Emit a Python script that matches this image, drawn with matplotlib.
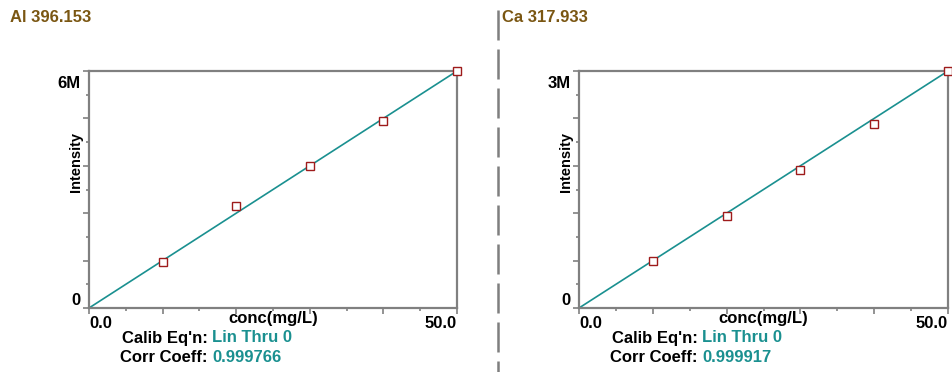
import numpy as np
import matplotlib.pyplot as plt
import matplotlib.transforms as mtransforms
from matplotlib.ticker import FixedLocator, NullFormatter

plt.rcParams['font.family'] = ['Liberation Sans', 'DejaVu Sans']
plt.rcParams['font.weight'] = 'bold'

# Calibration data (standards)
conc = [10.0, 20.0, 30.0, 40.0, 50.0]
al_intensity = [1.17e6, 2.58e6, 3.59e6, 4.73e6, 6.00e6]
ca_intensity = [0.60e6, 1.17e6, 1.75e6, 2.33e6, 3.00e6]

# Linear fit through zero (slope in counts per mg/L)
al_slope = 120000
ca_slope = 60000

titles = ['Al 396.153', 'Ca 317.933']
ymax = [6e6, 3e6]
ymax_labels = ['6M', '3M']
corr_coeff = ['0.999766', '0.999917']
calib_eqn = 'Lin Thru 0'

W, H = 952, 372
title_col = '#7a5612'
teal = '#1a9090'
red = '#9e1b1b'
spine_col = '#808080'

fig = plt.figure(figsize=(W / 100, H / 100), dpi=100)

def fx(px):
    return px / W

def fy(py):
    return 1 - py / H

panels = [
    dict(left=89, right=457, tx=10, y=al_intensity, slope=al_slope),
    dict(left=579, right=948, tx=502, y=ca_intensity, slope=ca_slope),
]
top, bottom = 71, 308

for i, p in enumerate(panels):
    ax = fig.add_axes([fx(p['left']), fy(bottom), fx(p['right'] - p['left']), (bottom - top) / H])
    ax.set_xlim(0, 50)
    ax.set_ylim(0, ymax[i])

    xline = np.array([0.0, 50.0])
    ax.plot(xline, p['slope'] * xline, color=teal, lw=1.2, clip_on=False, zorder=2)
    ax.plot(conc, p['y'], ls='none', marker='s', ms=5.5, mfc='white', mec=red, mew=1.0,
            clip_on=False, zorder=3)

    for s in ax.spines.values():
        s.set_color(spine_col)
        s.set_linewidth(1.6)

    # ticks: majors every 2 intervals, minors in between
    ax.xaxis.set_major_locator(FixedLocator(np.arange(0, 51, 10)))
    ax.xaxis.set_minor_locator(FixedLocator(np.arange(5, 50, 10)))
    ax.yaxis.set_major_locator(FixedLocator(np.linspace(0, ymax[i], 6)))
    ax.yaxis.set_minor_locator(FixedLocator(np.linspace(0, ymax[i], 11)[1::2]))
    ax.set_xticklabels(['0.0', '', '', '', '', '50.0'])
    ax.set_yticklabels(['0', '', '', '', '', ymax_labels[i]])
    ax.xaxis.set_minor_formatter(NullFormatter())
    ax.yaxis.set_minor_formatter(NullFormatter())
    ax.tick_params(which='major', length=4.5, width=1.2, color=spine_col, labelsize=12, pad=1.5)
    ax.tick_params(which='minor', length=2.5, width=1.2, color=spine_col)
    xl = ax.get_xticklabels()
    xl[0].set_ha('left')
    xl[-1].set_ha('right')
    yl = ax.get_yticklabels()
    yl[0].set_va('bottom')
    yl[-1].set_va('top')
    # nudge the top label a little below the spine, as in the original
    yl[-1].set_transform(yl[-1].get_transform() +
                         mtransforms.ScaledTranslation(0, -3.5 / 72, fig.dpi_scale_trans))

    ax.set_ylabel('Intensity', fontsize=10.5, fontweight='bold')
    ax.yaxis.set_label_coords(-0.017, 0.616)

    cx = (p['left'] + p['right']) / 2
    fig.text(fx(cx), fy(318), 'conc(mg/L)', ha='center', va='center', fontsize=12, fontweight='bold')
    fig.text(fx(p['tx']), fy(18), titles[i], ha='left', va='center', fontsize=12,
             fontweight='bold', color=title_col)

    colon_x = p['left'] + 119
    fig.text(fx(colon_x), fy(338), "Calib Eq'n:", ha='right', va='center', fontsize=12, fontweight='bold')
    fig.text(fx(colon_x + 4), fy(338), calib_eqn, ha='left', va='center', fontsize=12,
             fontweight='bold', color=teal)
    fig.text(fx(colon_x), fy(358), 'Corr Coeff:', ha='right', va='center', fontsize=12, fontweight='bold')
    fig.text(fx(colon_x + 4), fy(358), corr_coeff[i], ha='left', va='center', fontsize=12,
             fontweight='bold', color=teal)

# dashed divider between the two panels
fig.add_artist(plt.Line2D([fx(498), fx(498)], [fy(10), fy(372)], color='#7f7f7f', lw=1.8,
                          linestyle=(0, (12, 3.6))))

fig.savefig('out.png', dpi=100)
